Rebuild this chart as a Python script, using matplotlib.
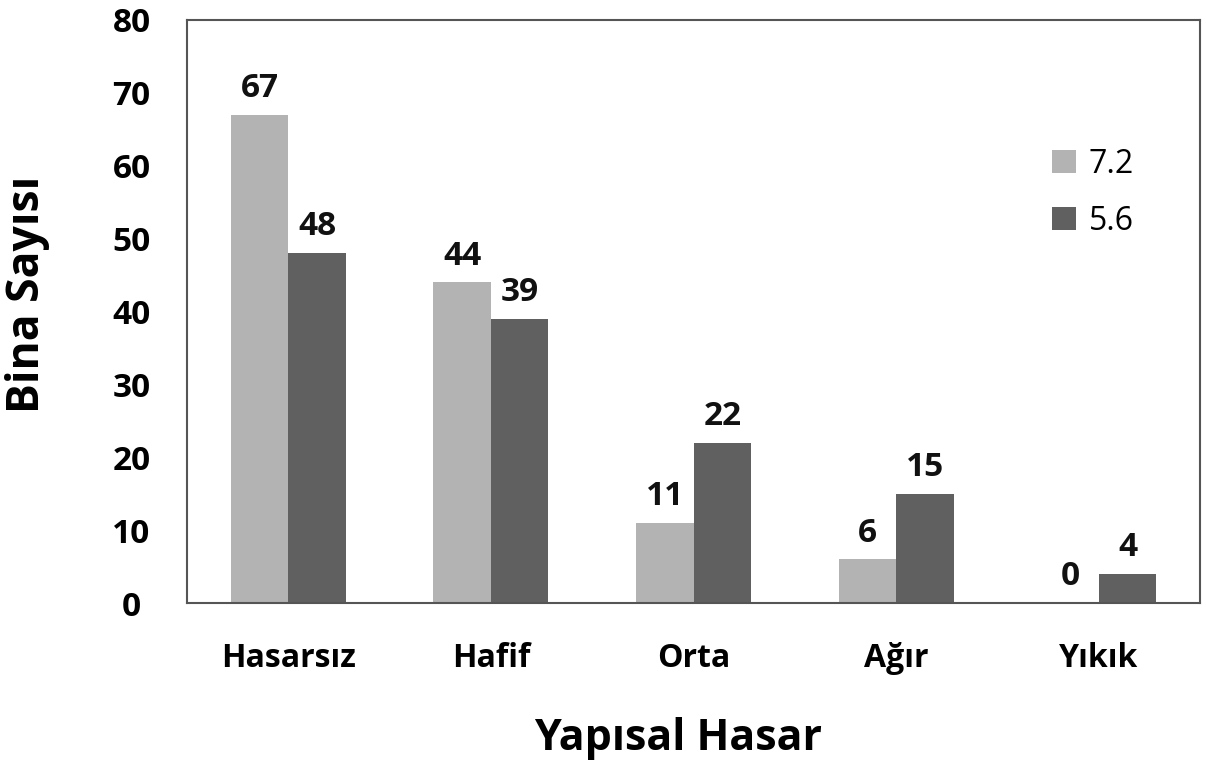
import matplotlib
matplotlib.use("Agg")
import matplotlib.pyplot as plt
import numpy as np

categories = ["Hasarsız", "Hafif", "Orta", "Ağır", "Yıkık"]
series_labels = ["7.2", "5.6"]
values_72 = [67, 44, 11, 6, 0]
values_56 = [48, 39, 22, 15, 4]
yticks = [0, 10, 20, 30, 40, 50, 60, 70, 80]

plt.rcParams['font.family'] = ['Open Sans', 'DejaVu Sans']

fig = plt.figure(figsize=(12.06, 7.63), dpi=100)
ax = fig.add_axes([187/1206, 1 - 603/763, (1200-187)/1206, (603-20)/763])

x = np.arange(len(categories))
w = 0.284
b1 = ax.bar(x - w/2, values_72, w, color="#b3b3b3", label=series_labels[0])
b2 = ax.bar(x + w/2, values_56, w, color="#606060", label=series_labels[1])

for rects, vals in ((b1, values_72), (b2, values_56)):
    for r, v in zip(rects, vals):
        ax.annotate(str(v), (r.get_x() + r.get_width()/2, v), xytext=(0, 7),
                    textcoords="offset points", ha="center", va="bottom",
                    fontsize=24, fontweight="bold", color="#111111")

ax.set_xlim(-0.5, len(categories) - 0.5)
ax.set_ylim(0, 80)
ax.set_yticks(yticks)
ax.set_yticklabels([str(t) for t in yticks], fontsize=24, fontweight="bold")
ax.set_xticks(x)
ax.set_xticklabels(categories, fontsize=23, fontweight="bold")
ax.tick_params(axis="both", length=0)
ax.tick_params(axis="y", pad=40)
ax.tick_params(axis="x", pad=28)
for lab in ax.get_yticklabels():
    lab.set_horizontalalignment("center")

for s in ax.spines.values():
    s.set_color("#555555")
    s.set_linewidth(1.5)

ax.set_xlabel("Yapısal Hasar", fontsize=31, fontweight="bold", labelpad=30)
ax.xaxis.label.set_x(0.485)
ax.set_ylabel("Bina Sayısı", fontsize=32, fontweight="bold", labelpad=45)
ax.yaxis.label.set_y(0.53)

leg = ax.legend(loc="upper right", bbox_to_anchor=(0.963, 0.83), frameon=False,
                fontsize=23, handlelength=0.75, handleheight=0.75, handletextpad=0.4,
                labelspacing=0.75)

fig.savefig("out.png", dpi=100)
